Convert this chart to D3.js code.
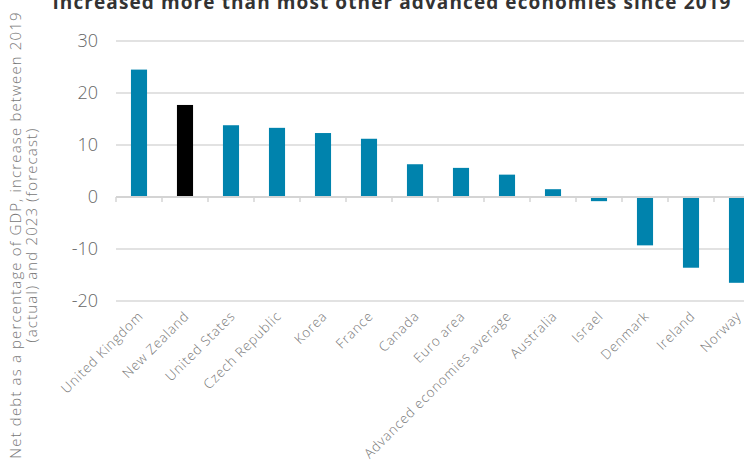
<!DOCTYPE html>
<html lang="en">
<head>
    <meta charset="utf-8">
    <title>Net debt change</title>
    <script type="text/javascript" src="https://d3js.org/d3.v7.min.js"></script>
    <style>
        body { margin: 0; background: #fff; }
        .title { font-family: "Open Sans", sans-serif; font-weight: bold; font-size: 19px; letter-spacing: 1.1px; fill: #333; }
        .ylabel { font-family: "Open Sans", sans-serif; font-weight: 300; font-size: 15px; letter-spacing: 1.15px; fill: #777; }
        .ytick text { font-family: "Open Sans", sans-serif; font-weight: 300; font-size: 18px; fill: #666; }
        .xlab { font-family: "Open Sans", sans-serif; font-weight: 300; font-size: 13.5px; letter-spacing: 0.8px; fill: #777; }
    </style>
</head>
<body>
<div id="container"></div>
<script type="text/javascript">
    const w = 744;
    const h = 460;

    // data
    const countries = ["United Kingdom", "New Zealand", "United States", "Czech Republic", "Korea", "France",
        "Canada", "Euro area", "Advanced economies average", "Australia", "Israel", "Denmark", "Ireland", "Norway"];
    const netDebtChange = [24.5, 17.7, 13.8, 13.3, 12.3, 11.2, 6.3, 5.6, 4.3, 1.5, -0.8, -9.3, -13.6, -16.5];
    const yTicks = [30, 20, 10, 0, -10, -20];
    const highlight = "New Zealand";

    const svg = d3.select("div#container").append("svg")
        .attr("width", w).attr("height", h);

    const x = d3.scaleBand().domain(countries).range([116, 760]).paddingInner(0.65).paddingOuter(0.325);
    const xb = d3.scaleBand().domain(countries).range([116, 760]);
    const y = d3.scaleLinear().domain([-20, 30]).range([301, 41]);

    // title (cut at top)
    svg.append("text").attr("class", "title")
        .attr("x", 392).attr("y", 9).attr("text-anchor", "middle")
        .text("Increased more than most other advanced economies since 2019");

    // gridlines + tick labels
    const yAxis = svg.append("g").attr("class", "ytick");
    yAxis.selectAll("line").data(yTicks.filter(d => d !== 0)).enter().append("line")
        .attr("x1", 116).attr("x2", w)
        .attr("y1", d => y(d)).attr("y2", d => y(d))
        .attr("stroke", "#d9d9d9").attr("stroke-width", 1.5);
    yAxis.selectAll("text").data(yTicks).enter().append("text")
        .attr("x", 98).attr("y", d => y(d)).attr("dy", "0.35em")
        .attr("text-anchor", "end")
        .text(d => d);

    // bars
    svg.selectAll("rect.bar").data(countries).enter().append("rect")
        .attr("class", "bar")
        .attr("x", d => x(d))
        .attr("width", x.bandwidth())
        .attr("y", (d, i) => y(Math.max(0, netDebtChange[i])))
        .attr("height", (d, i) => Math.abs(y(netDebtChange[i]) - y(0)))
        .attr("fill", d => d === highlight ? "#000" : "#0083ad");

    // zero line with ticks between categories
    svg.append("line")
        .attr("x1", 116).attr("x2", w).attr("y1", y(0)).attr("y2", y(0))
        .attr("stroke", "#d4d4d4").attr("stroke-width", 2);
    svg.selectAll("line.xt").data(countries).enter().append("line")
        .attr("class", "xt")
        .attr("x1", d => xb(d)).attr("x2", d => xb(d))
        .attr("y1", y(0)).attr("y2", y(0) + 5)
        .attr("stroke", "#d4d4d4").attr("stroke-width", 1.5);

    // category labels
    svg.selectAll("text.xlab").data(countries).enter().append("text")
        .attr("class", "xlab")
        .attr("text-anchor", "end")
        .attr("transform", d => "translate(" + (xb(d) + xb.bandwidth() / 2 + 5) + "," + 317 + ") rotate(-45)")
        .text(d => d);

    // y axis title
    const yl = svg.append("text").attr("class", "ylabel")
        .attr("transform", "translate(21,235) rotate(-90)")
        .attr("text-anchor", "middle");
    yl.append("tspan").attr("x", 0).attr("dy", 0).text("Net debt as a percentage of GDP, increase between 2019");
    yl.append("tspan").attr("x", 0).attr("dy", "1.07em").text("(actual) and 2023 (forecast)");
</script>
</body>
</html>
